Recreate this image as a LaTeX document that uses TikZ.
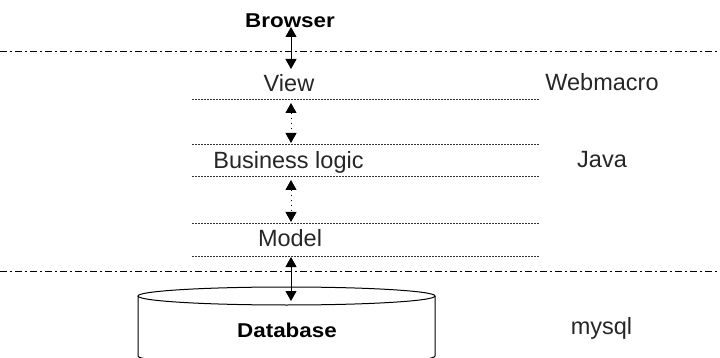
\documentclass[tikz,border=0pt]{standalone}
\usepackage{fontspec}
\setmainfont{Liberation Sans}
\usetikzlibrary{arrows.meta}
\begin{document}
\begin{tikzpicture}[x=1pt,y=-1pt,
  layer/.style={font=\fontsize{23.5}{26}\selectfont, text=black!85, inner sep=0pt, anchor=base},
  tier/.style={font=\bfseries\fontsize{20}{24}\selectfont, inner sep=0pt, anchor=base, xscale=1.12},
  boundary/.style={line width=1pt, dash pattern=on 7pt off 3pt on 2pt off 3pt},
  sublayer/.style={line width=1pt, dash pattern=on 1.5pt off 1.5pt, black!80},
  link/.style={line width=1pt, {Triangle[width=11pt,length=10pt]}-{Triangle[width=11pt,length=10pt]}},
  dottedlink/.style={link, dash pattern=on 1pt off 4pt},
  tank/.style={line width=1pt}]
\useasboundingbox (0,0) rectangle (720,358);
\clip (0,0) rectangle (720,358);

% tier boundaries
\draw[boundary] (0,52) -- (720,52);
\draw[boundary] (0,271) -- (720,271);

% application sub-layers
\foreach \yy in {100,145,177,224,256}
  \draw[sublayer] (192,\yy) -- (540,\yy);

% labels
\node[tier]  (browser)  at (290,28)  {Browser};
\node[layer] (view)     at (289,92)  {View};
\node[layer] (logic)    at (288.5,169) {Business logic};
\node[layer] (model)    at (290,247) {Model};
\node[layer] (webmacro) at (602,91)  {Webmacro};
\node[layer] (java)     at (602,168) {Java};
\node[layer] (mysql)    at (601.5,334) {mysql};

% database cylinder
\draw[tank] (138,296) -- (138,356) arc[start angle=180, end angle=0, x radius=148.5, y radius=9] -- (435,296);
\draw[tank] (286.5,296) ellipse[x radius=148.5, y radius=9];
\node[tier] (db) at (287,337) {Database};

% connectors
\coordinate (b1) at (291,27);
\coordinate (v1) at (291,69);
\coordinate (v2) at (291,103);
\coordinate (l1) at (291,143);
\coordinate (l2) at (291,180);
\coordinate (m1) at (291,222);
\coordinate (m2) at (291,257);
\coordinate (d1) at (291,301);
\draw[link] (b1) -- (v1);
\draw[dottedlink] (v2) -- (l1);
\draw[dottedlink] (l2) -- (m1);
\draw[link] (m2) -- (d1);
\end{tikzpicture}
\end{document}
